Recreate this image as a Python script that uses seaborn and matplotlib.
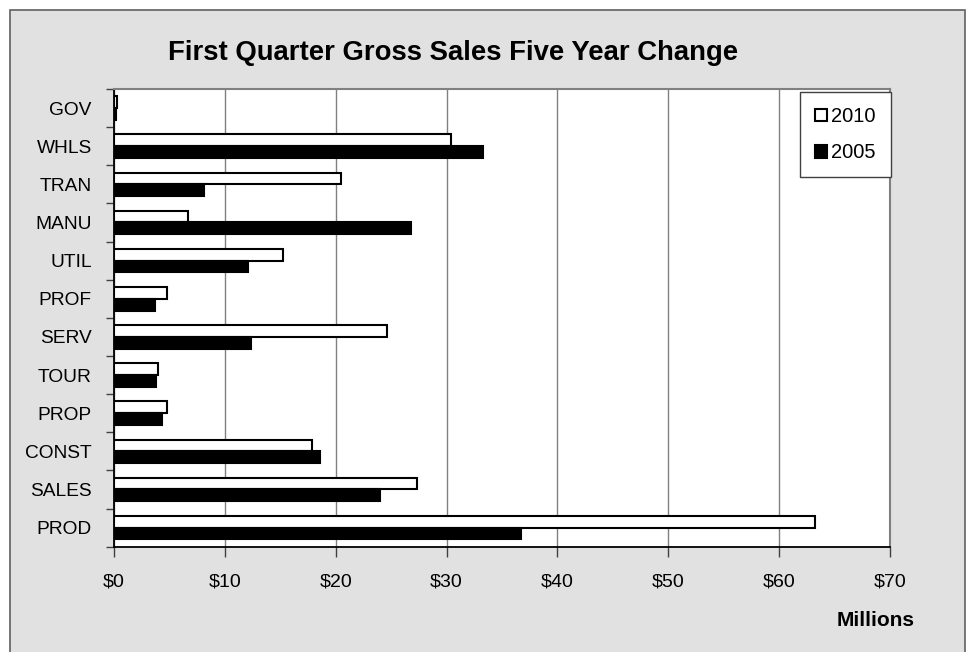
import numpy as np
import pandas as pd
import matplotlib
matplotlib.use("Agg")
import matplotlib.pyplot as plt
from matplotlib.patches import Rectangle
from matplotlib.ticker import FuncFormatter
import seaborn as sns

categories = ["GOV", "WHLS", "TRAN", "MANU", "UTIL", "PROF", "SERV", "TOUR",
              "PROP", "CONST", "SALES", "PROD"]
sales_2010 = [0.25, 30.4, 20.5, 6.7, 15.2, 4.8, 24.6, 4.0, 4.8, 17.9, 27.3, 63.2]
sales_2005 = [0.2, 33.3, 8.1, 26.8, 12.1, 3.7, 12.4, 3.75, 4.3, 18.6, 24.0, 36.7]
years = ["2010", "2005"]
x_ticks = [0, 10, 20, 30, 40, 50, 60, 70]

df = pd.DataFrame({
    "cat": categories * 2,
    "value": sales_2010 + sales_2005,
    "year": [years[0]] * len(categories) + [years[1]] * len(categories),
})

plt.rcParams["font.family"] = ["Liberation Sans", "DejaVu Sans"]

W, H = 972, 652
fig = plt.figure(figsize=(W / 100, H / 100), dpi=100)
fig.patch.set_facecolor("white")
frame = Rectangle((10 / W, -0.02), 955 / W, 1 - 10 / H + 0.02,
                  transform=fig.transFigure, facecolor="#e1e1e1",
                  edgecolor="#606060", linewidth=1.2, zorder=-10)
fig.add_artist(frame)

left, right, top, bottom = 114, 890, 89, 546.7
ax = fig.add_axes([left / W, 1 - bottom / H, (right - left) / W, (bottom - top) / H])
ax.set_facecolor("white")

sns.barplot(data=df, y="cat", x="value", hue="year", hue_order=years,
            order=categories, palette={"2010": "white", "2005": "black"},
            edgecolor="black", linewidth=1.5, width=0.62, saturation=1,
            errorbar=None, orient="h", ax=ax, zorder=3)

ax.set_xlim(0, 70)
ax.set_ylim(len(categories) - 0.5, -0.5)
ax.set_xticks(x_ticks)
ax.xaxis.set_major_formatter(FuncFormatter(lambda v, p: f"${int(v)}"))
ax.set_xlabel("")
ax.set_ylabel("")
ax.grid(axis="x", color="#808080", linewidth=1, zorder=0)
ax.grid(axis="y", visible=False)
ax.set_axisbelow(True)

ax.set_yticks(np.arange(-0.5, len(categories), 1), minor=True)
ax.tick_params(axis="y", which="major", length=0, pad=16, labelsize=13.8)
ax.tick_params(axis="y", which="minor", length=6, width=1, color="#404040", direction="out")
ax.tick_params(axis="x", which="major", length=7, width=1, color="#404040",
               direction="out", pad=12, labelsize=14)

for s in ["left", "bottom"]:
    ax.spines[s].set_color("black")
    ax.spines[s].set_linewidth(1.3)
for s in ["top", "right"]:
    ax.spines[s].set_color("#808080")
    ax.spines[s].set_linewidth(1.5)

handles, labels = ax.get_legend_handles_labels()
leg = ax.legend(handles, labels, loc="upper right",
                bbox_to_anchor=(891 / W, 1 - 92 / H), bbox_transform=fig.transFigure,
                frameon=True, fancybox=False, edgecolor="#404040", framealpha=1,
                fontsize=14.5, handlelength=0.6, handleheight=0.6,
                handletextpad=0.2, labelspacing=0.85, borderpad=0.75,
                borderaxespad=0)
leg.get_frame().set_linewidth(1)

fig.text(453 / W, 1 - 53 / H, "First Quarter Gross Sales Five Year Change",
         ha="center", va="center", fontsize=19.8, fontweight="bold")
fig.text(876 / W, 1 - 620 / H, "Millions", ha="center", va="center",
         fontsize=15, fontweight="bold")

fig.savefig("out.png", dpi=100)
